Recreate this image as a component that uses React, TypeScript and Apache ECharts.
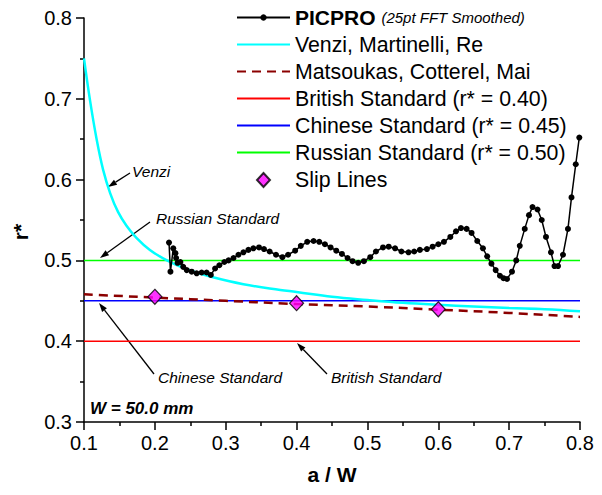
import { useEffect, useRef } from "react";
import * as echarts from "echarts";

// PICPRO measurement (25 pt FFT smoothed)
const picproAW = [0.220,0.222,0.226,0.229,0.230,0.232,0.236,0.240,0.245,0.252,0.259,0.266,0.273,0.279,0.285,0.291,0.298,0.304,0.311,0.318,0.325,0.332,0.339,0.347,0.354,0.362,0.371,0.380,0.388,0.398,0.406,0.415,0.424,0.432,0.440,0.448,0.456,0.464,0.472,0.479,0.487,0.495,0.504,0.512,0.522,0.530,0.539,0.548,0.558,0.566,0.574,0.584,0.592,0.600,0.608,0.617,0.625,0.632,0.640,0.647,0.655,0.663,0.669,0.675,0.681,0.687,0.692,0.697,0.704,0.710,0.715,0.722,0.728,0.733,0.740,0.746,0.752,0.759,0.764,0.769,0.776,0.783,0.788,0.794,0.799];
const picproR = [0.522,0.486,0.515,0.509,0.503,0.497,0.498,0.492,0.488,0.486,0.484,0.485,0.485,0.482,0.490,0.494,0.498,0.500,0.503,0.507,0.510,0.513,0.515,0.516,0.514,0.511,0.507,0.504,0.507,0.512,0.518,0.523,0.524,0.523,0.520,0.516,0.512,0.508,0.503,0.499,0.497,0.499,0.504,0.511,0.516,0.517,0.515,0.511,0.510,0.511,0.513,0.514,0.517,0.520,0.523,0.529,0.536,0.540,0.539,0.534,0.524,0.515,0.505,0.496,0.488,0.481,0.478,0.477,0.486,0.500,0.518,0.539,0.556,0.566,0.563,0.550,0.529,0.510,0.493,0.493,0.507,0.539,0.578,0.619,0.652];

// Venzi, Martinelli, Re
const venziAW = [0.100,0.1085,0.118,0.127,0.137,0.148,0.160,0.174,0.193,0.217,0.245,0.278,0.325,0.377,0.400,0.450,0.500,0.550,0.600,0.650,0.700,0.750,0.800];
const venziR = [0.750,0.698,0.649,0.612,0.583,0.560,0.543,0.528,0.513,0.500,0.489,0.480,0.4705,0.4635,0.461,0.455,0.451,0.4475,0.445,0.443,0.441,0.4395,0.437];

// Matsoukas, Cotterel, Mai
const matsAW = [0.1,0.2,0.3,0.4,0.5,0.6,0.7,0.8];
const matsR = [0.458,0.454,0.450,0.446,0.443,0.439,0.435,0.430];

// Standards (constant r*)
const standardAW = [0.1, 0.8];
const britishR = 0.40;
const chineseR = 0.45;
const russianR = 0.50;

// Slip lines
const slipAW = [0.2, 0.4, 0.6];
const slipR = [0.455, 0.447, 0.4395];

const xTicks = { min: 0.1, max: 0.8, interval: 0.1 };
const yTicks = { min: 0.3, max: 0.8, interval: 0.1 };

const FONT = "'Liberation Sans', Arial, sans-serif";
// diamond centred in a 53 x 14 legend slot (the two zero-length stubs fix the slot width)
const DIAMOND_ICON = "path://M0,7L0,7M53,7L53,7M26.5,0L33,7L26.5,14L20,7Z";

const zip = (xs: number[], ys: number[]) => xs.map((x, i) => [x, ys[i]]);
const flat = (xs: number[], v: number) => xs.map((x) => [x, v]);

function arrow(x1: number, y1: number, x2: number, y2: number) {
  const dx = x2 - x1;
  const dy = y2 - y1;
  const len = Math.hypot(dx, dy);
  const ux = dx / len;
  const uy = dy / len;
  const hl = 9;
  const hw = 3;
  const bx = x2 - ux * hl;
  const by = y2 - uy * hl;
  return [
    {
      type: "line",
      shape: { x1, y1, x2: bx, y2: by },
      style: { stroke: "#000", lineWidth: 1.3 },
    },
    {
      type: "polygon",
      shape: {
        points: [
          [x2, y2],
          [bx - uy * hw, by + ux * hw],
          [bx + uy * hw, by - ux * hw],
        ],
      },
      style: { fill: "#000" },
    },
  ];
}

function note(text: string, x: number, y: number, size = 15.5, weight = "normal") {
  return {
    type: "text",
    x,
    y,
    style: {
      text,
      fill: "#000",
      font: `italic ${weight} ${size}px ${FONT}`,
      textAlign: "left",
      textVerticalAlign: "middle",
    },
  };
}

const legendText = {
  fontFamily: FONT,
  fontSize: 21.3,
  color: "#000",
  lineHeight: 21,
};

const legendBase = {
  orient: "vertical" as const,
  left: 236,
  padding: 0,
  itemWidth: 53,
  selectedMode: false,
  textStyle: legendText,
};

export default function App() {
  const ref = useRef<HTMLDivElement>(null);

  useEffect(() => {
    document.body.style.margin = "0";
    const chart = echarts.init(ref.current!, null, { renderer: "svg" });

    const axisCommon = {
      type: "value" as const,
      splitLine: { show: false },
      axisLine: { show: true, lineStyle: { color: "#000", width: 1.5 } },
      axisTick: { show: true, inside: false, length: 8, lineStyle: { color: "#000", width: 1.5 } },
      minorTick: { show: true, splitNumber: 2, length: 4, lineStyle: { color: "#000", width: 1.5 } },
      axisLabel: {
        color: "#000",
        fontFamily: FONT,
        fontSize: 20,
        formatter: (v: number) => v.toFixed(1),
      },
    };

    chart.setOption({
      animation: false,
      backgroundColor: "#fff",
      grid: { left: 84, right: 22, top: 18, bottom: 73, containLabel: false },
      xAxis: {
        ...axisCommon,
        ...xTicks,
        axisLabel: { ...axisCommon.axisLabel, margin: 11 },
      },
      yAxis: {
        ...axisCommon,
        ...yTicks,
        axisLabel: { ...axisCommon.axisLabel, margin: 12 },
      },
      legend: [
        {
          ...legendBase,
          top: 7,
          itemHeight: 8,
          data: ["PICPRO"],
          formatter: () => "{b|PICPRO} {i|(25pt FFT Smoothed)}",
          textStyle: {
            ...legendText,
            rich: {
              b: { fontFamily: FONT, fontSize: 21, fontWeight: "bold", color: "#000", lineHeight: 21 },
              i: { fontFamily: FONT, fontSize: 15, fontStyle: "italic", color: "#000", lineHeight: 21 },
            },
          },
        },
        {
          ...legendBase,
          top: 34,
          itemHeight: 14,
          itemGap: 6,
          itemStyle: { opacity: 0 },
          data: [
            "Venzi, Martinelli, Re",
            "Matsoukas, Cotterel, Mai",
            "British Standard (r* = 0.40)",
            "Chinese Standard (r* = 0.45)",
            "Russian Standard (r* = 0.50)",
          ],
        },
        {
          ...legendBase,
          top: 169.5,
          itemHeight: 14,
          symbolKeepAspect: false,
          data: [{ name: "Slip Lines", icon: DIAMOND_ICON }],
        },
      ],
      series: [
        {
          name: "British Standard (r* = 0.40)",
          type: "line",
          symbol: "none",
          data: flat(standardAW, britishR),
          lineStyle: { color: "#ff0000", width: 1.5 },
          itemStyle: { color: "#ff0000" },
        },
        {
          name: "Chinese Standard (r* = 0.45)",
          type: "line",
          symbol: "none",
          data: flat(standardAW, chineseR),
          lineStyle: { color: "#0000ff", width: 1.5 },
          itemStyle: { color: "#0000ff" },
        },
        {
          name: "Russian Standard (r* = 0.50)",
          type: "line",
          symbol: "none",
          data: flat(standardAW, russianR),
          lineStyle: { color: "#00ff00", width: 1.5 },
          itemStyle: { color: "#00ff00" },
        },
        {
          name: "Venzi, Martinelli, Re",
          type: "line",
          symbol: "none",
          smooth: 0.4,
          data: zip(venziAW, venziR),
          lineStyle: { color: "#00ffff", width: 2.5 },
          itemStyle: { color: "#00ffff" },
        },
        {
          name: "Matsoukas, Cotterel, Mai",
          type: "line",
          symbol: "none",
          smooth: true,
          data: zip(matsAW, matsR),
          lineStyle: { color: "#8b0000", width: 2.5, type: [9, 6] },
          itemStyle: { color: "#8b0000" },
        },
        {
          name: "PICPRO",
          type: "line",
          symbol: "circle",
          symbolSize: 6,
          showAllSymbol: true,
          data: zip(picproAW, picproR),
          lineStyle: { color: "#000", width: 1.5 },
          itemStyle: { color: "#000" },
        },
        {
          name: "Slip Lines",
          type: "scatter",
          symbol: "diamond",
          symbolSize: [14, 15],
          data: zip(slipAW, slipR),
          itemStyle: { color: "#ff00ff", borderColor: "#000", borderWidth: 1.2 },
          z: 5,
        },
      ],
      graphic: [
        ...arrow(130, 173, 108, 187),
        note("Venzi", 132, 171.5),
        ...arrow(150, 222, 100, 258),
        note("Russian Standard", 156, 218),
        ...arrow(154, 374, 99, 303),
        note("Chinese Standard", 158, 377),
        ...arrow(327, 374, 297, 343),
        note("British Standard", 331, 377),
        note("W = 50.0 mm", 90, 408, 17, "bold"),
        {
          type: "text",
          x: 332,
          y: 474,
          style: {
            text: "a / W",
            fill: "#000",
            font: `bold 21px ${FONT}`,
            textAlign: "center",
            textVerticalAlign: "middle",
          },
        },
        {
          type: "text",
          x: 20,
          y: 232,
          rotation: Math.PI / 2,
          style: {
            text: "r*",
            fill: "#000",
            font: `bold 21px ${FONT}`,
            textAlign: "center",
            textVerticalAlign: "middle",
          },
        },
      ],
    });

    return () => chart.dispose();
  }, []);

  return <div ref={ref} style={{ width: 602, height: 495 }} />;
}
